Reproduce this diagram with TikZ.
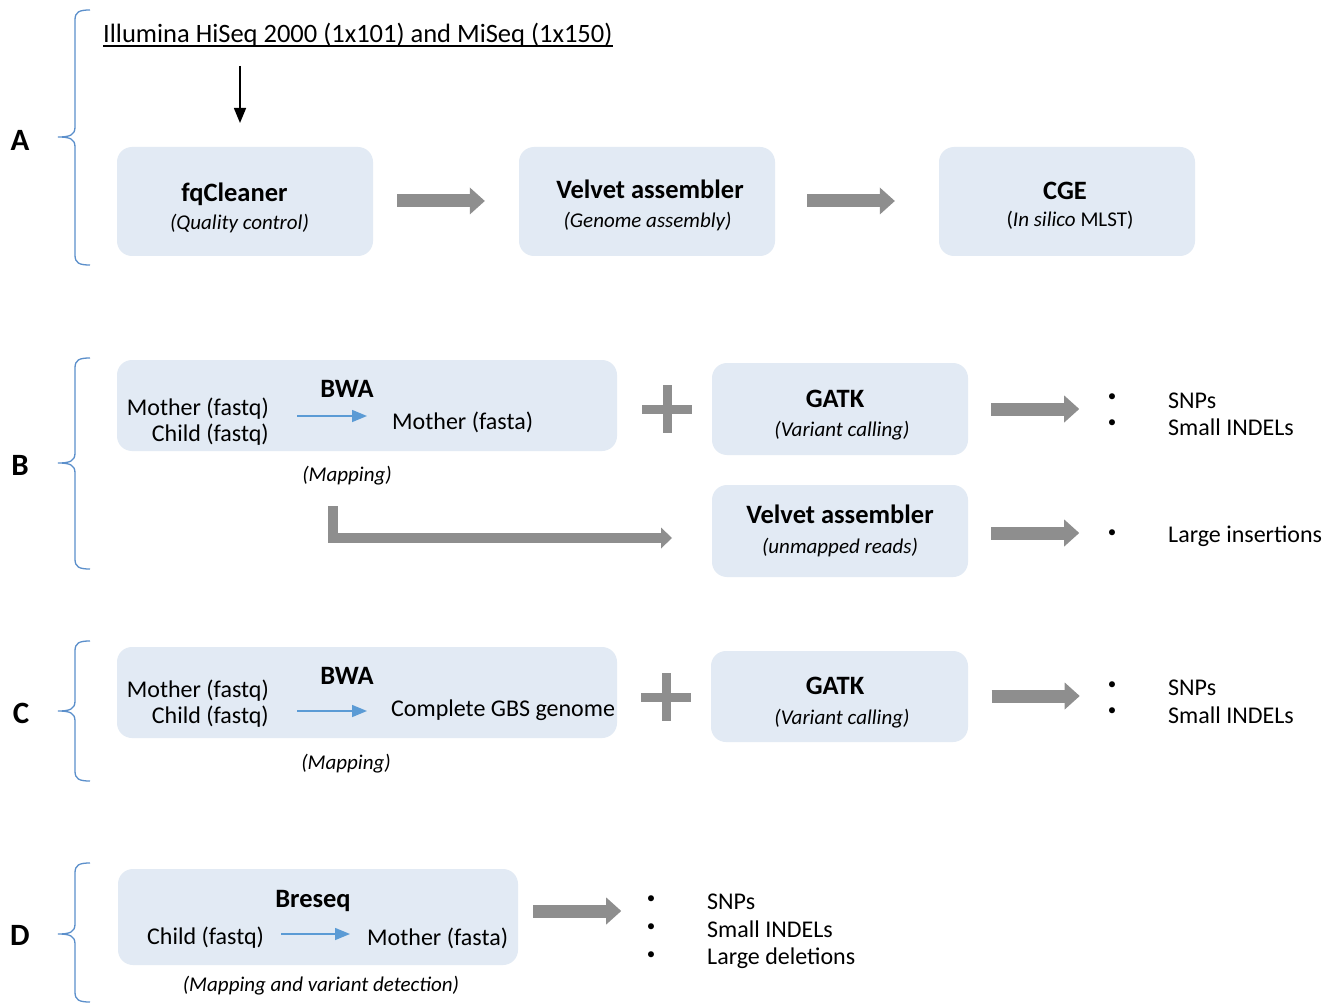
\documentclass[tikz,border=0pt]{standalone}
\usepackage{fontspec}
\setmainfont{Carlito}
\usetikzlibrary{arrows.meta,calc}
\definecolor{boxfill}{HTML}{E2EAF4}
\definecolor{bracecol}{HTML}{5B8FCB}
\definecolor{arrowblue}{HTML}{5B9BD5}
\definecolor{blockgray}{HTML}{8E8E8E}
\newcommand\mybrace[3]{%
  \draw[bracecol,line width=1.3pt] (90,#1) .. controls (79,#1) and (75,{#1+2}) .. (75,{#1+10})
    -- (75,{#2-10}) .. controls (75,{#2-2}) and (70,#2) .. (58,#2)
    .. controls (70,#2) and (75,{#2+2}) .. (75,{#2+10})
    -- (75,{#3-10}) .. controls (75,{#3-2}) and (79,#3) .. (90,#3);}
\begin{document}
\begin{tikzpicture}[x=1pt,y=-1pt,
  box/.style={fill=boxfill,rounded corners=15pt,draw=none,inner sep=0pt},
  body/.style={inner sep=0pt,font=\fontsize{24}{28}\selectfont},
  ttl/.style={inner sep=0pt,font=\fontsize{26.5}{31}\selectfont\bfseries},
  sub/.style={inner sep=0pt,font=\fontsize{21}{25}\selectfont\itshape},
  letter/.style={inner sep=0pt,font=\fontsize{31}{36}\selectfont\bfseries},
  bul/.style={inner sep=0pt,font=\fontsize{17}{20}\selectfont},
  blk/.style={blockgray,line width=13pt,-{Triangle[length=15pt,width=27pt,line width=0pt]}},
  blkthin/.style={blockgray,line width=10.5pt,line join=miter,-{Triangle[length=11pt,width=21pt,line width=0pt]}},
  bluearr/.style={arrowblue,line width=1.5pt,-{Triangle[length=15pt,width=12pt]}},
  blackarr/.style={black,line width=1.5pt,-{Triangle[length=15pt,width=12pt]}},
  plusbar/.style={blockgray,draw=none}
]
\useasboundingbox[fill=white] (0,0) rectangle (1326,1003);

% braces and letters
\mybrace{10}{137}{265}
\mybrace{358}{463}{569}
\mybrace{641}{711}{781}
\mybrace{863}{934}{1002}
\node[letter] (lA) at (20,140) {A};
\node[letter] (lB) at (20,465) {B};
\node[letter] (lC) at (21,713) {C};
\node[letter] (lD) at (20,935) {D};

% ---------------- Row A
\node[body,font=\fontsize{26.5}{31}\selectfont,anchor=base west] (illum) at (103,42.5) {Illumina HiSeq 2000 (1x101) and MiSeq (1x150)};
\draw[black,line width=2pt] ([yshift=-4pt]illum.base west) -- ([yshift=-4pt]illum.base east);
\node[box,minimum width=256pt,minimum height=109pt] (fq) at (245,201.5) {};
\node[box,minimum width=256pt,minimum height=109pt] (vel) at (647,201.5) {};
\node[box,minimum width=256pt,minimum height=109pt] (cge) at (1067,201.5) {};
\node[ttl] (fqt) at (234.5,194) {fqCleaner};
\node[sub] (fqs) at (239.5,223.5) {(Quality control)};
\node[ttl] (velt) at (650,189.5) {Velvet assembler};
\node[sub] (vels) at (647.5,221.5) {(Genome assembly)};
\node[ttl] (cget) at (1065,190.5) {CGE};
\node[body,font=\fontsize{21}{25}\selectfont] (cges) at (1070,220.5) {(\textit{In silico} MLST)};
\coordinate (dnA) at (240,66);
\coordinate (dnB) at (240,123);
\draw[blackarr] (dnA) -- (dnB);
\draw[blk] ([xshift=24pt,yshift=0.5pt]fq.east) -- ([xshift=-34pt,yshift=0.5pt]vel.west);
\draw[blk] ([xshift=32pt,yshift=0.5pt]vel.east) -- ([xshift=-44pt,yshift=0.5pt]cge.west);

% ---------------- Row B
\node[box,minimum width=500pt,minimum height=91pt] (bwaB) at (367,405.5) {};
\node[box,minimum width=256pt,minimum height=92pt] (gatkB) at (840,409) {};
\node[box,minimum width=256pt,minimum height=92pt] (velB) at (840,531) {};
\node[ttl] (bwaBt) at (347,388.5) {BWA};
\node[body,anchor=east] (mfqB) at (269,409) {Mother (fastq)};
\node[body,anchor=east] (cfqB) at (269,435) {Child (fastq)};
\node[body,anchor=west] (mfaB) at (392,422) {Mother (fasta)};
\coordinate (baB1) at (297,416);
\coordinate (baB2) at (367,416);
\draw[bluearr] (baB1) -- (baB2);
\node[sub] (mapB) at (347,475.5) {(Mapping)};
\fill[plusbar] (642,404.5) rectangle (692,413.5);
\fill[plusbar] (662.5,385) rectangle (671.5,433);
\node[ttl] (gatkBt) at (835,398.5) {GATK};
\node[sub] (gatkBs) at (842,430.5) {(Variant calling)};
\node[ttl] (velBt) at (840,514.5) {Velvet assembler};
\node[sub] (velBs) at (840,547.5) {(unmapped reads)};
\coordinate (elb1) at (333,506);
\coordinate (elb2) at (672,538);
\draw[blkthin] (elb1) |- (elb2);
\draw[blk] ([xshift=23pt]gatkB.east) -- ++(88,0);
\draw[blk] ([xshift=23pt,yshift=-2pt]velB.east) -- ++(88,0);
\node[bul] (bB1) at (1112,398) {•};
\node[bul] (bB2) at (1112,424) {•};
\node[bul] (bB3) at (1112,534) {•};
\node[body,anchor=west] (snpB) at (1168,401) {SNPs};
\node[body,anchor=west] (indB) at (1168,427) {Small INDELs};
\node[body,anchor=west] (insB) at (1168,536) {Large insertions};

% ---------------- Row C
\node[box,minimum width=500pt,minimum height=91pt] (bwaC) at (367,692.5) {};
\node[box,minimum width=257pt,minimum height=91pt] (gatkC) at (839.5,696.5) {};
\node[ttl] (bwaCt) at (347,675.5) {BWA};
\node[body,anchor=east] (mfqC) at (269,691) {Mother (fastq)};
\node[body,anchor=east] (cfqC) at (269,717) {Child (fastq)};
\node[body,anchor=west] (gbsC) at (391,710) {Complete GBS genome};
\coordinate (baC1) at (297,711);
\coordinate (baC2) at (367,711);
\draw[bluearr] (baC1) -- (baC2);
\node[sub] (mapC) at (346,763.5) {(Mapping)};
\fill[plusbar] (641,692.5) rectangle (691,701.5);
\fill[plusbar] (661.5,673) rectangle (670.5,721);
\node[ttl] (gatkCt) at (835,685.5) {GATK};
\node[sub] (gatkCs) at (842,718.5) {(Variant calling)};
\draw[blk] ([xshift=23.5pt,yshift=0.5pt]gatkC.east) -- ++(88,0);
\node[bul] (bC1) at (1112,686) {•};
\node[bul] (bC2) at (1112,712) {•};
\node[body,anchor=west] (snpC) at (1168,688) {SNPs};
\node[body,anchor=west] (indC) at (1168,715) {Small INDELs};

% ---------------- Row D
\node[box,minimum width=400pt,minimum height=96pt] (bre) at (318,917) {};
\node[ttl] (bret) at (313,900.5) {Breseq};
\node[body,anchor=west] (cfqD) at (147,938) {Child (fastq)};
\node[body,anchor=west] (mfaD) at (367,938) {Mother (fasta)};
\coordinate (baD1) at (281,934);
\coordinate (baD2) at (350,934);
\draw[bluearr] (baD1) -- (baD2);
\node[sub] (mapD) at (321,985.5) {(Mapping and variant detection)};
\draw[blk] ([xshift=15pt,yshift=6pt]bre.east) -- ++(88,0);
\node[bul] (bD1) at (651,900) {•};
\node[bul] (bD2) at (651,928) {•};
\node[bul] (bD3) at (651,956) {•};
\node[body,anchor=west] (snpD) at (707,902) {SNPs};
\node[body,anchor=west] (indD) at (707,929) {Small INDELs};
\node[body,anchor=west] (delD) at (707,958) {Large deletions};
\end{tikzpicture}
\end{document}
